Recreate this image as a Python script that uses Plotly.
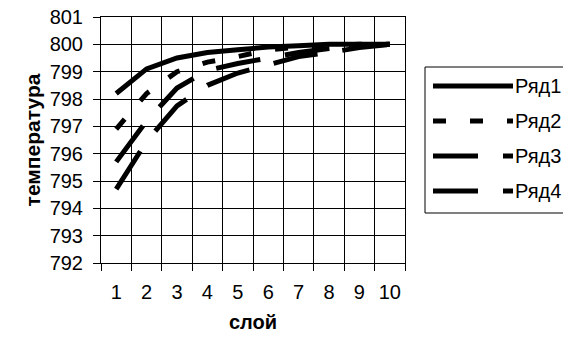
import plotly.graph_objects as go

# Layers and temperature profiles
layers = ["1", "2", "3", "4", "5", "6", "7", "8", "9", "10"]
series_names = ["Ряд1", "Ряд2", "Ряд3", "Ряд4"]
row1 = [798.2, 799.1, 799.5, 799.7, 799.8, 799.9, 799.95, 800.0, 800.0, 800.0]
row2 = [796.9, 798.2, 799.0, 799.35, 799.55, 799.8, 799.9, 799.95, 800.0, 800.0]
row3 = [795.7, 797.2, 798.4, 799.05, 799.3, 799.5, 799.7, 799.85, 799.95, 800.0]
row4 = [794.7, 796.45, 797.75, 798.5, 798.95, 799.25, 799.55, 799.7, 799.88, 800.0]
y_ticks = [792, 793, 794, 795, 796, 797, 798, 799, 800, 801]

rows = [row1, row2, row3, row4]
dashes = ["solid", "13px,24px", "45px,25px", "45px,25px"]

W, H = 563, 342
L, R, T, B = 101, 405, 17, 263  # plot area in pixels

FONT = "Liberation Sans, Arial, sans-serif"

fig = go.Figure()
for name, vals, dash in zip(series_names, rows, dashes):
    fig.add_trace(go.Scatter(
        x=layers, y=vals, name=name, mode="lines",
        line=dict(color="black", width=5, dash=dash),
        showlegend=False,
    ))


def px_x(p):
    return (p - L) / (R - L)


def px_y(p):
    return (B - p) / (B - T)


# Legend box drawn by hand so the samples can be as long as the text block
fig.add_shape(type="rect", xref="paper", yref="paper",
              x0=px_x(425), x1=px_x(600), y0=px_y(213), y1=px_y(67),
              line=dict(color="black", width=1), fillcolor="white", layer="above")
legend_rows = [86, 121, 156, 191]
for name, dash, py in zip(series_names, dashes, legend_rows):
    fig.add_shape(type="line", xref="paper", yref="paper",
                  x0=px_x(433), x1=px_x(513), y0=px_y(py), y1=px_y(py),
                  line=dict(color="black", width=5, dash=dash), layer="above")
    fig.add_annotation(xref="paper", yref="paper", x=px_x(513), y=px_y(py),
                       text=name, showarrow=False, xanchor="left", yanchor="middle",
                       font=dict(family=FONT, size=20, color="black"))

fig.update_layout(
    width=W, height=H,
    margin=dict(l=L, r=W - R, t=T, b=H - B, pad=0, autoexpand=False),
    paper_bgcolor="white", plot_bgcolor="white",
    font=dict(family=FONT, size=20, color="black"),
    xaxis=dict(
        type="category", categoryorder="array", categoryarray=layers,
        range=[-0.5, 9.5], automargin=False, tickangle=0,
        tickson="boundaries", ticks="outside", ticklen=7, tickcolor="black",
        showgrid=True, gridcolor="black", gridwidth=1,
        showline=True, linecolor="black", linewidth=1, mirror=True,
        tickfont=dict(size=20), ticklabelstandoff=11, zeroline=False,
        title=dict(text="<b>слой</b>", font=dict(size=20), standoff=12),
    ),
    yaxis=dict(
        range=[792, 801], tickvals=y_ticks, ticks="outside", ticklen=7,
        automargin=False,
        tickcolor="black", showgrid=True, gridcolor="black", gridwidth=1,
        showline=True, linecolor="black", linewidth=1, mirror=True,
        tickfont=dict(size=20), ticklabelstandoff=6, zeroline=False,
        title=dict(text="<b>температура</b>", font=dict(size=21), standoff=3),
    ),
)

fig.write_html("out.html")
